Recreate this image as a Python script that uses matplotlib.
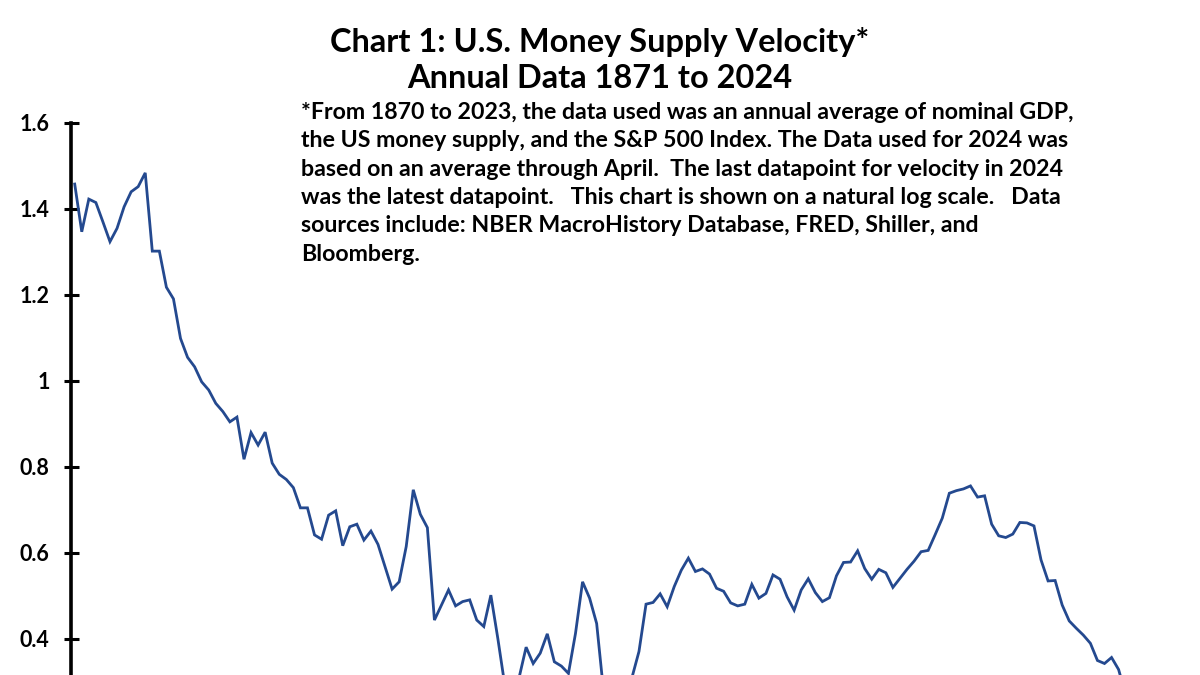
import matplotlib
matplotlib.use('Agg')
import matplotlib.pyplot as plt

plt.rcParams['font.family'] = ['Lato', 'DejaVu Sans']
plt.rcParams['font.weight'] = 'bold'

years = list(range(1871, 2025))

velocity = [
    1.458, 1.347, 1.423, 1.415, 1.370, 1.324, 1.355, 1.405, 1.440, 1.452,  # 1871-1880
    1.484, 1.302, 1.302, 1.218, 1.191, 1.099, 1.055, 1.033, 0.998, 0.979,  # 1881-1890
    0.948, 0.929, 0.905, 0.916, 0.818, 0.880, 0.851, 0.881, 0.809, 0.783,  # 1891-1900
    0.771, 0.752, 0.705, 0.705, 0.642, 0.632, 0.688, 0.698, 0.617, 0.661,  # 1901-1910
    0.667, 0.630, 0.651, 0.620, 0.568, 0.516, 0.533, 0.615, 0.747, 0.690,  # 1911-1920
    0.659, 0.444, 0.479, 0.514, 0.477, 0.487, 0.491, 0.444, 0.429, 0.502,  # 1921-1930
    0.400, 0.290, 0.280, 0.310, 0.381, 0.343, 0.367, 0.412, 0.347, 0.337,  # 1931-1940
    0.320, 0.413, 0.533, 0.495, 0.436, 0.275, 0.270, 0.280, 0.270, 0.310,  # 1941-1950
    0.371, 0.481, 0.485, 0.505, 0.475, 0.522, 0.560, 0.588, 0.557, 0.563,  # 1951-1960
    0.551, 0.518, 0.511, 0.484, 0.477, 0.481, 0.527, 0.495, 0.506, 0.549,  # 1961-1970
    0.539, 0.498, 0.467, 0.514, 0.540, 0.508, 0.487, 0.496, 0.547, 0.578,  # 1971-1980
    0.579, 0.605, 0.564, 0.539, 0.562, 0.554, 0.520, 0.541, 0.562, 0.581,  # 1981-1990
    0.603, 0.606, 0.643, 0.681, 0.739, 0.745, 0.749, 0.756, 0.730, 0.733,  # 1991-2000
    0.667, 0.640, 0.636, 0.644, 0.671, 0.670, 0.663, 0.584, 0.535, 0.536,  # 2001-2010
    0.479, 0.442, 0.425, 0.409, 0.390, 0.350, 0.343, 0.357, 0.329, 0.270,  # 2011-2020
    0.250, 0.260, 0.270, 0.270,                                            # 2021-2024
]

ytick_vals = [0.4, 0.6, 0.8, 1.0, 1.2, 1.4, 1.6]
ytick_labels = ['0.4', '0.6', '0.8', '1', '1.2', '1.4', '1.6']

title_lines = ['Chart 1: U.S. Money Supply Velocity*', 'Annual Data 1871 to 2024']
note = ('*From 1870 to 2023, the data used was an annual average of nominal GDP,\n'
        'the US money supply, and the S&P 500 Index. The Data used for 2024 was\n'
        'based on an average through April.  The last datapoint for velocity in 2024\n'
        'was the latest datapoint.   This chart is shown on a natural log scale.   Data\n'
        'sources include: NBER MacroHistory Database, FRED, Shiller, and\n'
        'Bloomberg.')

fig = plt.figure(figsize=(12, 6.75), dpi=100)
ax = fig.add_axes([0.0592, 0.0, 0.9053, 0.8178])

ax.plot(years, velocity, color='#24498f', linewidth=2.0, solid_joinstyle='miter')

ax.set_xlim(1870.48, 2024.5)
ax.set_ylim(1.6 - 552 / 430, 1.6)

for side in ['top', 'right', 'bottom']:
    ax.spines[side].set_visible(False)
ax.spines['left'].set_linewidth(2.6)
ax.spines['left'].set_color('black')

ax.set_xticks([])
ax.set_yticks(ytick_vals)
ax.set_yticklabels(ytick_labels, fontsize=15.5, fontweight='bold')
ax.tick_params(axis='y', direction='inout', length=10.8, width=2.2, pad=10, color='black')

fig.text(0.5, 1 - 42 / 675, title_lines[0], ha='center', va='center', fontsize=23.4, fontweight='bold')
fig.text(0.5, 1 - 79 / 675, title_lines[1], ha='center', va='center', fontsize=23.4, fontweight='bold')
fig.text(301 / 1200, 1 - 102 / 675, note, ha='left', va='top', fontsize=16.7,
         fontweight='bold', linespacing=1.43)

fig.savefig('out.png', dpi=100)
